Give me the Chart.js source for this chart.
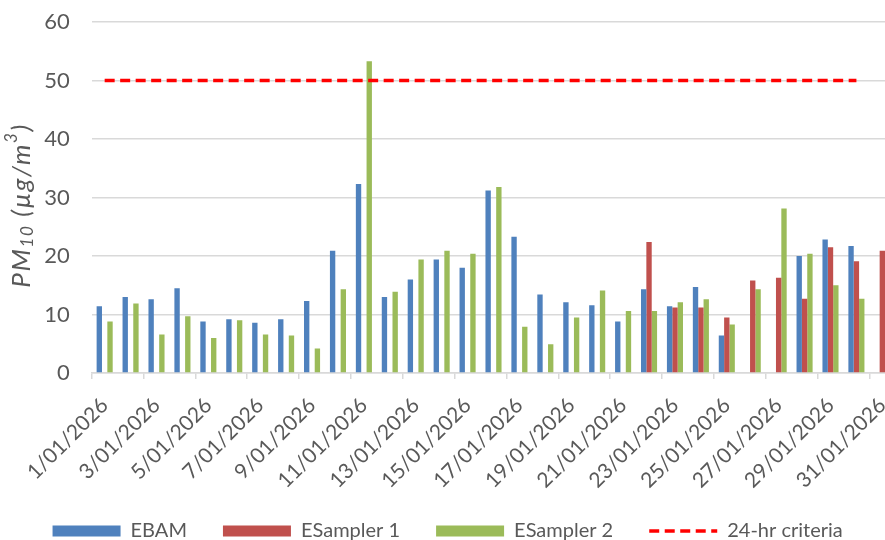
<!DOCTYPE html>
<html>
<head>
<meta charset="utf-8">
<script src="https://cdn.jsdelivr.net/npm/chart.js@4.4.1/dist/chart.umd.min.js"></script>
<style>
  html, body { margin: 0; padding: 0; overflow: hidden; background: #ffffff; width: 885px; height: 540px; }
  #wrap { position: absolute; left: 0; top: 0; width: 900px; height: 551px; }
</style>
</head>
<body>
<div id="wrap"><canvas id="c" width="900" height="551"></canvas></div>
<script>
const dates = ['1/01/2026','2/01/2026','3/01/2026','4/01/2026','5/01/2026','6/01/2026','7/01/2026','8/01/2026','9/01/2026','10/01/2026',
  '11/01/2026','12/01/2026','13/01/2026','14/01/2026','15/01/2026','16/01/2026','17/01/2026','18/01/2026','19/01/2026','20/01/2026',
  '21/01/2026','22/01/2026','23/01/2026','24/01/2026','25/01/2026','26/01/2026','27/01/2026','28/01/2026','29/01/2026','30/01/2026','31/01/2026'];
const ebam = [11.4,13.0,12.6,14.5,8.8,9.2,8.6,9.2,12.3,20.9,32.3,13.0,16.0,19.4,18.0,31.2,23.3,13.4,12.1,11.6,8.8,14.3,11.4,14.7,6.4,null,null,20.0,22.8,21.7,null];
const esampler1 = [null,null,null,null,null,null,null,null,null,null,null,null,null,null,null,null,null,null,null,null,null,22.4,11.2,11.2,9.5,15.8,16.3,12.7,21.5,19.1,20.9];
const esampler2 = [8.8,11.9,6.6,9.7,6.0,9.0,6.6,6.4,4.2,14.3,53.3,13.9,19.4,20.9,20.4,31.8,7.9,4.9,9.5,14.1,10.6,10.6,12.1,12.6,8.3,14.3,28.1,20.4,15.0,12.7,null];
const criteria = [50,50,50,50,50,50,50,50,50,50,50,50,50,50,50,50,50,50,50,50,50,50,50,50,50,50,50,50,50,50,null];
const yTicks = [0,10,20,30,40,50,60];
const seriesNames = ['EBAM','ESampler 1','ESampler 2','24-hr criteria'];

const C_BLUE = '#4F81BD', C_RED = '#C0504D', C_GREEN = '#9BBB59', C_LINE = '#FF0000';
const TXT = '#595959', GRID = '#D9D9D9';
const FONT = 'Lato';

const yTitlePlugin = {
  id: 'yTitle',
  afterDraw(chart) {
    const ctx = chart.ctx;
    const area = chart.chartArea;
    const cy = (area.top + area.bottom) / 2 + 8;
    const cx = 22;
    const big = 'italic 26px ' + FONT, small = 'italic 17px ' + FONT;
    const parts = [
      {t: 'PM', f: big, dy: 0},
      {t: '10', f: small, dy: 6},
      {t: ' (\u00B5g/m', f: big, dy: 0},
      {t: '3', f: small, dy: -10},
      {t: ')', f: big, dy: 0}
    ];
    ctx.save();
    ctx.letterSpacing = '1.6px';
    let total = 0;
    parts.forEach(p => { ctx.font = p.f; p.w = ctx.measureText(p.t).width; total += p.w; });
    ctx.translate(cx, cy);
    ctx.rotate(-Math.PI / 2);
    ctx.fillStyle = TXT;
    ctx.textBaseline = 'middle';
    ctx.textAlign = 'left';
    let x = -total / 2;
    parts.forEach(p => { ctx.font = p.f; ctx.fillText(p.t, x, p.dy); x += p.w; });
    ctx.restore();
  }
};

new Chart(document.getElementById('c'), {
  type: 'bar',
  data: {
    labels: dates,
    datasets: [
      { label: seriesNames[0], data: ebam, backgroundColor: C_BLUE, order: 1 },
      { label: seriesNames[1], data: esampler1, backgroundColor: C_RED, order: 1 },
      { label: seriesNames[2], data: esampler2, backgroundColor: C_GREEN, order: 1 },
      { type: 'line', label: seriesNames[3], data: criteria, borderColor: C_LINE, borderWidth: 3.5,
        borderDash: [10, 5.5], pointRadius: 0, fill: false, order: 0, spanGaps: false }
    ]
  },
  plugins: [yTitlePlugin],
  options: {
    responsive: false,
    devicePixelRatio: 1,
    animation: false,
    datasets: { bar: { categoryPercentage: 0.62, barPercentage: 1.0 } },
    layout: { padding: { left: 0, right: 4.7, top: 22, bottom: 0 } },
    plugins: {
      tooltip: { enabled: false },
      legend: {
        position: 'bottom',
        labels: {
          font: { family: FONT, size: 20 },
          color: TXT,
          usePointStyle: true,
          pointStyleWidth: 68,
          boxHeight: 11,
          padding: 36,
          generateLabels() {
            return [
              { text: seriesNames[0], fillStyle: C_BLUE, strokeStyle: C_BLUE, lineWidth: 0, pointStyle: 'rect', datasetIndex: 0, fontColor: TXT },
              { text: seriesNames[1], fillStyle: C_RED, strokeStyle: C_RED, lineWidth: 0, pointStyle: 'rect', datasetIndex: 1, fontColor: TXT },
              { text: seriesNames[2], fillStyle: C_GREEN, strokeStyle: C_GREEN, lineWidth: 0, pointStyle: 'rect', datasetIndex: 2, fontColor: TXT },
              { text: seriesNames[3], fillStyle: 'rgba(0,0,0,0)', strokeStyle: C_LINE, lineWidth: 3.5, lineDash: [10, 5.5], pointStyle: 'line', datasetIndex: 3, fontColor: TXT }
            ];
          }
        }
      }
    },
    scales: {
      x: {
        offset: true,
        afterFit: (scale) => {
          scale.paddingLeft = 0; scale.paddingRight = 0; scale.height = 112;
          // let the rotated labels overflow the axis box instead of being clipped
          scale._computeLabelArea = function() { return undefined; };
        },
        grid: {
          offset: true,
          drawOnChartArea: false,
          drawTicks: true,
          tickLength: 6,
          lineWidth: 1.5,
          color: (ctx) => (ctx.index % 2 === 0 ? GRID : 'rgba(0,0,0,0)')
        },
        border: { display: true, color: GRID, width: 1.5 },
        ticks: {
          autoSkip: false,
          minRotation: 45,
          maxRotation: 45,
          padding: 14,
          labelOffset: 0,
          color: TXT,
          font: { family: FONT, size: 21 },
          callback: function(v, i) { return i % 2 === 0 ? dates[i] : ''; }
        }
      },
      y: {
        min: 0,
        max: 60,
        afterBuildTicks: (scale) => { scale.ticks = yTicks.map(v => ({ value: v })); },
        afterFit: (scale) => { scale.width = 91.7; scale.paddingTop = 0; scale.paddingBottom = 0; },
        grid: { color: GRID, lineWidth: 1.5, drawTicks: false },
        border: { display: false },
        ticks: {
          padding: 22,
          color: TXT,
          font: { family: FONT, size: 22 }
        }
      }
    }
  }
});
</script>
</body>
</html>
